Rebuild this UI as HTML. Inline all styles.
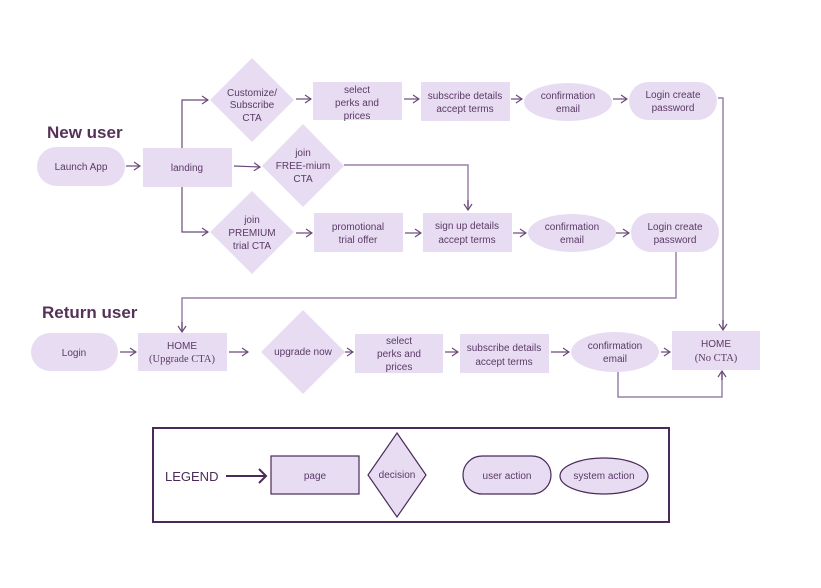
<!DOCTYPE html>
<html><head><meta charset="utf-8"><style>
html,body{margin:0;padding:0;background:#fff;}
svg{display:block;}
text{font-family:"Liberation Sans",sans-serif;fill:#5a3a66;font-size:10px;text-anchor:middle;}
.t{font-size:17px;font-weight:bold;text-anchor:start;fill:#553258;}
.s{font-family:"Liberation Serif",serif;font-size:10.5px;}
.f{fill:#e8dcf2;}
.l{fill:none;stroke:#9a80a8;stroke-width:1.5;}
.a{fill:none;stroke:#6a4a78;stroke-width:1.2;}
</style></head><body>
<svg width="821" height="588" viewBox="0 0 821 588">
<defs><marker id="m" markerWidth="8" markerHeight="10" refX="7" refY="5" orient="auto" markerUnits="userSpaceOnUse"><path d="M1,1 L7,5 L1,9" fill="none" stroke="#6a4a78" stroke-width="1.2"/></marker></defs>
<text class="t" x="47" y="138">New user</text>
<text class="t" x="42" y="318">Return user</text>

<!-- row 1 -->
<polygon class="f" points="252,58 294,100 252,142 210,100"/>
<text x="252" y="96">Customize/</text><text x="252" y="108">Subscribe</text><text x="252" y="121">CTA</text>
<rect class="f" x="313" y="82" width="89" height="38"/>
<text x="357" y="93">select</text><text x="357" y="106">perks and</text><text x="357" y="119">prices</text>
<rect class="f" x="421" y="82" width="89" height="39"/>
<text x="465" y="99">subscribe details</text><text x="465" y="112">accept terms</text>
<ellipse class="f" cx="568" cy="102" rx="44" ry="19"/>
<text x="568" y="99">confirmation</text><text x="568" y="112">email</text>
<rect class="f" x="629" y="82" width="88" height="38" rx="19"/>
<text x="673" y="98">Login create</text><text x="673" y="111">password</text>

<!-- row 2 -->
<rect class="f" x="37" y="147" width="88" height="39" rx="19.5"/>
<text x="81" y="170">Launch App</text>
<rect class="f" x="143" y="148" width="89" height="39"/>
<text x="187" y="171">landing</text>
<polygon class="f" points="303,124 344,166 303,207 262,166"/>
<text x="303" y="156">join</text><text x="303" y="169">FREE-mium</text><text x="303" y="182">CTA</text>

<!-- row 3 -->
<polygon class="f" points="252,191 294,232 252,274 210,232"/>
<text x="252" y="223">join</text><text x="252" y="236">PREMIUM</text><text x="252" y="249">trial CTA</text>
<rect class="f" x="314" y="213" width="89" height="39"/>
<text x="358" y="230">promotional</text><text x="358" y="243">trial offer</text>
<rect class="f" x="423" y="213" width="89" height="39"/>
<text x="467" y="229">sign up details</text><text x="467" y="243">accept terms</text>
<ellipse class="f" cx="572" cy="233" rx="44" ry="19"/>
<text x="572" y="230">confirmation</text><text x="572" y="243">email</text>
<rect class="f" x="631" y="213" width="88" height="39" rx="19.5"/>
<text x="675" y="230">Login create</text><text x="675" y="243">password</text>

<!-- return row -->
<rect class="f" x="31" y="333" width="87" height="38" rx="19"/>
<text x="74" y="356">Login</text>
<rect class="f" x="138" y="333" width="89" height="38"/>
<text x="182" y="349">HOME</text><text class="s" x="182" y="362">(Upgrade CTA)</text>
<polygon class="f" points="303,310 345,352 303,394 261,352"/>
<text x="303" y="355">upgrade now</text>
<rect class="f" x="355" y="334" width="88" height="39"/>
<text x="399" y="344">select</text><text x="399" y="357">perks and</text><text x="399" y="370">prices</text>
<rect class="f" x="460" y="334" width="89" height="39"/>
<text x="504" y="351">subscribe details</text><text x="504" y="365">accept terms</text>
<ellipse class="f" cx="615" cy="352" rx="44" ry="20"/>
<text x="615" y="349">confirmation</text><text x="615" y="362">email</text>
<rect class="f" x="672" y="331" width="88" height="39"/>
<text x="716" y="347">HOME</text><text class="s" x="716" y="361">(No CTA)</text>

<!-- arrows -->
<g class="a">
<line x1="126" y1="166" x2="140" y2="166" marker-end="url(#m)"/>
<line x1="234" y1="166" x2="260" y2="167" marker-end="url(#m)"/>
<polyline points="182,148 182,100 208,100" marker-end="url(#m)"/>
<polyline points="182,187 182,232 208,232" marker-end="url(#m)"/>
<line x1="296" y1="99" x2="311" y2="99" marker-end="url(#m)"/>
<line x1="404" y1="99" x2="419" y2="99" marker-end="url(#m)"/>
<line x1="511" y1="99" x2="522" y2="99" marker-end="url(#m)"/>
<line x1="613" y1="99" x2="627" y2="99" marker-end="url(#m)"/>
<line x1="296" y1="233" x2="312" y2="233" marker-end="url(#m)"/>
<line x1="405" y1="233" x2="421" y2="233" marker-end="url(#m)"/>
<line x1="513" y1="233" x2="526" y2="233" marker-end="url(#m)"/>
<line x1="616" y1="233" x2="629" y2="233" marker-end="url(#m)"/>
<line x1="120" y1="352" x2="136" y2="352" marker-end="url(#m)"/>
<line x1="229" y1="352" x2="248" y2="352" marker-end="url(#m)"/>
<line x1="345" y1="352" x2="353" y2="352" marker-end="url(#m)"/>
<line x1="445" y1="352" x2="458" y2="352" marker-end="url(#m)"/>
<line x1="551" y1="352" x2="569" y2="352" marker-end="url(#m)"/>
<line x1="661" y1="352" x2="670" y2="352" marker-end="url(#m)"/>
</g>
<g class="l">
<polyline points="344,165 468,165 468,207"/>
<polyline points="718,98 723,98 723,329"/>
<polyline points="676,252 676,298 182,298 182,331"/>
<polyline points="618,372 618,397 722,397 722,372"/>
</g>
<g class="a">
<line x1="468" y1="200" x2="468" y2="210" marker-end="url(#m)"/>
<line x1="723" y1="320" x2="723" y2="330" marker-end="url(#m)"/>
<line x1="182" y1="322" x2="182" y2="332" marker-end="url(#m)"/>
<line x1="722" y1="380" x2="722" y2="371" marker-end="url(#m)"/>
</g>

<!-- legend -->
<rect x="153" y="428" width="516" height="94" fill="none" stroke="#4a2a58" stroke-width="2"/>
<text x="165" y="481" style="font-size:13px;text-anchor:start;fill:#4a2a58;">LEGEND</text>
<line x1="226" y1="476" x2="266" y2="476" stroke="#4a2a58" stroke-width="2"/>
<path d="M259,469 L266,476 L259,483" fill="none" stroke="#4a2a58" stroke-width="2"/>
<rect class="f" x="271" y="456" width="88" height="38" stroke="#4a2a58" stroke-width="1.2"/>
<text x="315" y="479">page</text>
<polygon class="f" points="397,433 426,475 397,517 368,475" stroke="#4a2a58" stroke-width="1.2"/>
<text x="397" y="478">decision</text>
<rect class="f" x="463" y="456" width="88" height="38" rx="19" stroke="#4a2a58" stroke-width="1.2"/>
<text x="507" y="479">user action</text>
<ellipse class="f" cx="604" cy="476" rx="44" ry="18" stroke="#4a2a58" stroke-width="1.2"/>
<text x="604" y="479">system action</text>
</svg>
</body></html>
